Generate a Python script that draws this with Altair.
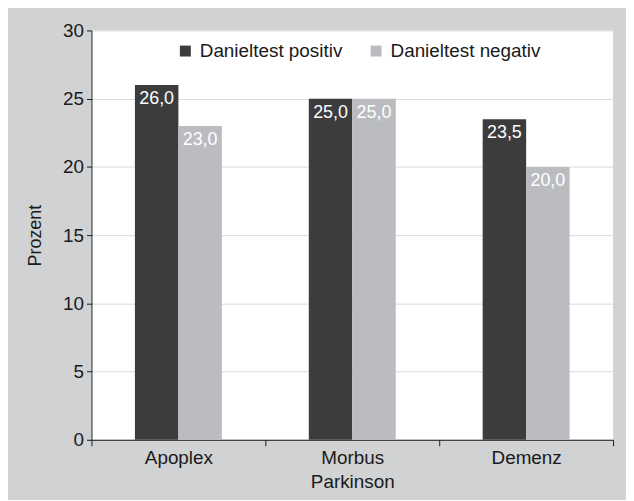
import altair as alt
import pandas as pd

categories = ["Apoplex", "Morbus Parkinson", "Demenz"]
series = ["Danieltest positiv", "Danieltest negativ"]
positiv = [26.0, 25.0, 23.5]
negativ = [23.0, 25.0, 20.0]
y_ticks = [0, 5, 10, 15, 20, 25, 30]

rows = []
for c, p, n in zip(categories, positiv, negativ):
    rows.append({"cat": c, "serie": series[0], "val": p, "lab": f"{p:.1f}".replace(".", ",")})
    rows.append({"cat": c, "serie": series[1], "val": n, "lab": f"{n:.1f}".replace(".", ",")})
df = pd.DataFrame(rows)

FONT = "Liberation Sans"
TXT = "#1a1a1a"

x = alt.X("cat:N", sort=categories, title=None,
          scale=alt.Scale(paddingInner=0, paddingOuter=0),
          axis=alt.Axis(labelAngle=0, labelFontSize=19, labelColor=TXT, labelFont=FONT,
                        tickBand="extent", tickSize=6, tickColor=TXT,
                        domainColor=TXT, grid=False, labelPadding=3,
                        labelLineHeight=24,
                        labelExpr="datum.label == 'Morbus Parkinson' ? ['Morbus', 'Parkinson'] : datum.label"))
xo = alt.XOffset("serie:N", sort=series,
                 scale=alt.Scale(paddingInner=0, paddingOuter=1))
y = alt.Y("val:Q", title="Prozent",
          scale=alt.Scale(domain=[0, 30], nice=False),
          axis=alt.Axis(values=y_ticks, labelFontSize=19, labelColor=TXT, labelFont=FONT,
                        titleFontSize=18, titleFont=FONT, titleFontWeight="normal",
                        titleColor=TXT, titlePadding=18,
                        tickSize=5, tickColor=TXT, domainColor=TXT,
                        gridColor="#dadada", labelPadding=3))

bars = alt.Chart(df).mark_bar().encode(
    x=x, xOffset=xo, y=y,
    color=alt.Color("serie:N", sort=series,
                    scale=alt.Scale(domain=series, range=["#3c3c3c", "#bbbcbf"]),
                    legend=alt.Legend(title=None, orient="none", legendX=85, legendY=11,
                                      direction="horizontal", columns=2,
                                      symbolType="square", symbolSize=121,
                                      symbolStrokeWidth=0, labelFontSize=19,
                                      labelFont=FONT, labelColor=TXT,
                                      columnPadding=24, labelOffset=5)),
)

text = alt.Chart(df).mark_text(color="white", fontSize=18, font=FONT,
                               baseline="top", dy=5).encode(
    x=alt.X("cat:N", sort=categories), xOffset=xo, y=alt.Y("val:Q"),
    text="lab:N",
)

chart = alt.layer(bars, text).properties(
    width=525, height=412,
    autosize=alt.AutoSizeParams(type="none"),
    padding={"left": 84, "top": 21, "right": 13, "bottom": 59},
    background="#d1d2d4",
).configure_view(fill="white", stroke=None)

chart.save("out.html", embed_options={"renderer": "svg", "actions": False})
